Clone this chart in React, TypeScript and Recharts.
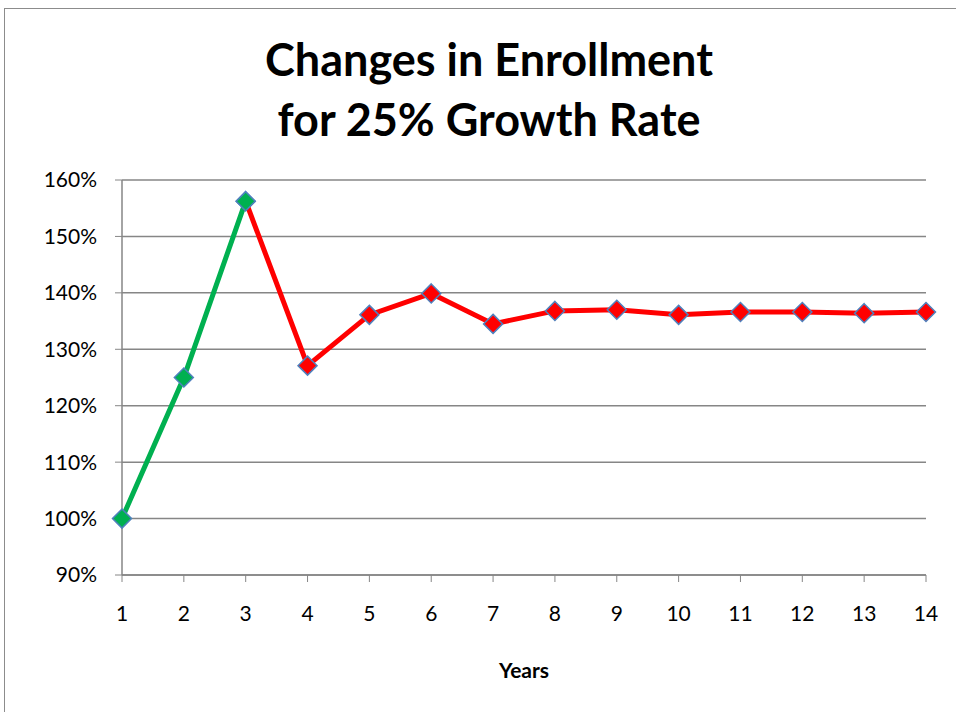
import React from 'react';
import { LineChart, Line, XAxis, YAxis, CartesianGrid, Label } from 'recharts';

// Data
const years = ['1', '2', '3', '4', '5', '6', '7', '8', '9', '10', '11', '12', '13', '14'];
const growthPhase = [100, 125, 156.25]; // years 1-3 (green)
const settlingPhase = [156.25, 127.1, 136.1, 139.9, 134.5, 136.8, 137.0, 136.1, 136.6, 136.6, 136.4, 136.6]; // years 3-14 (red)
const yTicks = [90, 100, 110, 120, 130, 140, 150, 160];

const data = years.map((year, i) => ({
  year,
  growth: i < growthPhase.length ? growthPhase[i] : null,
  settle: i >= 2 ? settlingPhase[i - 2] : null,
}));

const GRID = '#868686';
const FONT = 'Lato, "Open Sans", sans-serif';

const makeDiamond = (fill: string) => (props: any) => {
  const { cx, cy, index } = props;
  if (typeof cx !== 'number' || typeof cy !== 'number' || props.value == null) {
    return <g key={`d-${fill}-${index}`} />;
  }
  const r = 9.5;
  return (
    <path
      key={`d-${fill}-${index}`}
      d={`M${cx},${cy - r} L${cx + r},${cy} L${cx},${cy + r} L${cx - r},${cy} Z`}
      fill={fill}
      stroke="#4F81BD"
      strokeWidth={1.5}
    />
  );
};

export default function App() {
  return (
    <div
      style={{
        position: 'absolute',
        left: 0,
        top: 0,
        width: 956,
        height: 712,
        overflow: 'hidden',
        background: '#fff',
        fontFamily: FONT,
      }}
    >
      {/* chart frame, runs off the right and bottom edges */}
      <div
        style={{
          position: 'absolute',
          left: 4,
          top: 8,
          width: 1000,
          height: 800,
          border: '1.5px solid #8c8c8c',
        }}
      />
      <div
        style={{
          position: 'absolute',
          left: 0,
          top: 29,
          width: 978,
          textAlign: 'center',
          fontWeight: 700,
          fontSize: 45,
          lineHeight: '60px',
          color: '#000',
        }}
      >
        Changes in Enrollment
        <br />
        for 25% Growth Rate
      </div>
      <div style={{ position: 'absolute', left: 0, top: 0 }}>
        <LineChart width={956} height={712} data={data} margin={{ top: 180, right: 30, bottom: 0, left: 0 }}>
          <CartesianGrid vertical={false} stroke={GRID} strokeWidth={1.5} />
          <XAxis
            dataKey="year"
            height={137}
            tickSize={7}
            tickMargin={24}
            axisLine={{ stroke: GRID, strokeWidth: 1.5 }}
            tickLine={{ stroke: GRID }}
            tick={{ fill: '#000', fontSize: 21, fontFamily: FONT }}
            interval={0}
          >
            <Label
              value="Years"
              position="insideBottom"
              offset={34}
              style={{ fill: '#000', fontSize: 21, fontWeight: 700, fontFamily: FONT }}
            />
          </XAxis>
          <YAxis
            width={122}
            domain={[90, 160]}
            ticks={yTicks}
            interval={0}
            tickSize={7}
            tickMargin={18}
            tickFormatter={(v: number) => `${v}%`}
            axisLine={{ stroke: GRID, strokeWidth: 1.5 }}
            tickLine={{ stroke: GRID }}
            tick={{ fill: '#000', fontSize: 21, fontFamily: FONT }}
          />
          <Line
            dataKey="settle"
            stroke="#FF0000"
            strokeWidth={5}
            dot={makeDiamond('#FF0000')}
            activeDot={false}
            isAnimationActive={false}
          />
          <Line
            dataKey="growth"
            stroke="#00B050"
            strokeWidth={5}
            dot={makeDiamond('#00B050')}
            activeDot={false}
            isAnimationActive={false}
          />
        </LineChart>
      </div>
    </div>
  );
}
